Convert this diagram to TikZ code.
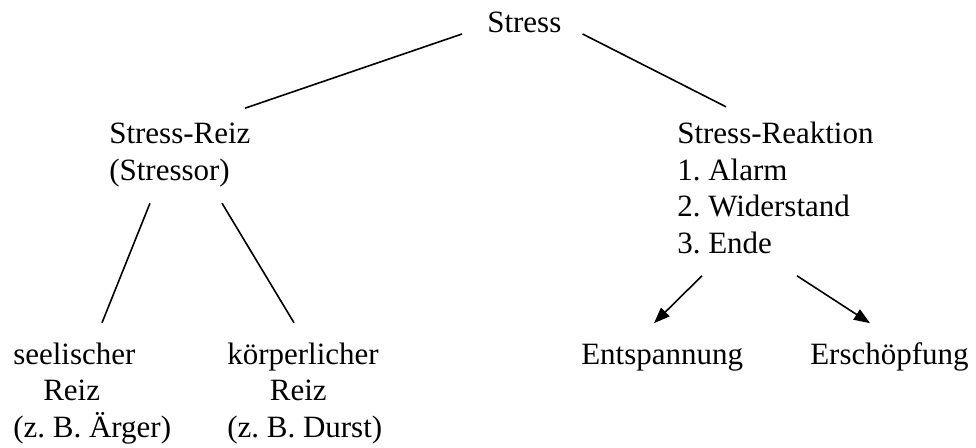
\documentclass[tikz,border=0pt]{standalone}
\usepackage{fontspec}
\setmainfont{Liberation Serif}
\usetikzlibrary{arrows.meta,calc}

\tikzset{
  txt/.style={anchor=base west, inner sep=0pt, align=left,
    font=\fontsize{23.25}{27.6}\selectfont},
  ast/.style={draw=black, line width=1.2pt},
  pfeil/.style={ast, -{Triangle[length=12pt,width=9pt]}}
}

\begin{document}
\frenchspacing
\begin{tikzpicture}[x=0.75pt,y=-0.75pt]
\useasboundingbox (0,0) rectangle (976,448);

% Begriffe (Position = Grundlinie der letzten Zeile)
\node [txt] (stress)   at (487,33)    {Stress};
\node [txt] (reiz)     at (109,180.2) {Stress-Reiz\\(Stressor)};
\node [txt] (reaktion) at (677,253.8) {Stress-Reaktion\\1. Alarm\\2. Widerstand\\3. Ende};
\node [txt] (seelisch) at (13,437.8)  {seelischer\\\hspace*{22.5pt}Reiz\\(z. B. Ärger)};
\node [txt] (koerper)  at (227,437.8) {körperlicher\\\hspace*{32pt}Reiz\\(z. B. Durst)};
\node [txt] (entsp)    at (581,364.2) {Entspannung};
\node [txt] (ersch)    at (810,364.2) {Erschöpfung};

% Linien
\draw [ast] ($(stress.base west)+(-25,1)$) -- ($(reiz.base west)+(136,-72)$);
\draw [ast] ($(stress.base east)+(21,1)$) -- ($(reaktion.base west)+(49,-147)$);
\draw [ast] ($(reiz.base west)+(41,23)$) -- ($(seelisch.base west)+(89,-115)$);
\draw [ast] ($(reiz.base west)+(113,23)$) -- ($(koerper.base west)+(67,-115)$);

% Pfeile
\draw [pfeil] ($(reaktion.base west)+(25,22)$) -- ($(entsp.base west)+(73,-41)$);
\draw [pfeil] ($(reaktion.base west)+(120,22)$) -- ($(ersch.base west)+(60,-41)$);

\end{tikzpicture}
\end{document}
